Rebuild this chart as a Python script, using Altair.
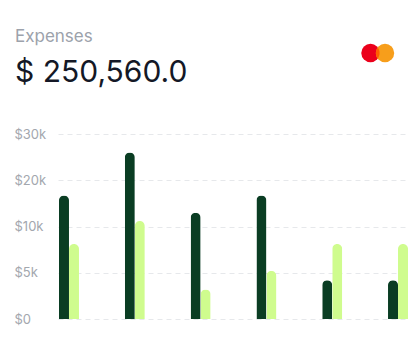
import altair as alt
import pandas as pd

months = ["Jan", "Feb", "Mar", "Apr", "May", "Jun"]
series_names = ["Spent", "Saved"]
spent = [16700, 26000, 13000, 16700, 4200, 4200]
saved = [8100, 11200, 3200, 5200, 8100, 8100]
tick_values = [0, 5000, 10000, 20000, 30000]
tick_labels = ["$0", "$5k", "$10k", "$20k", "$30k"]
title_text = ["Expenses"]
total_text = ["$ 250,560.0"]
brand = ["mastercard"]

rows = []
for m, a, b in zip(months, spent, saved):
    rows.append({"month": m, "series": series_names[0], "value": a})
    rows.append({"month": m, "series": series_names[1], "value": b})
df = pd.DataFrame(rows)

W, H = 351, 185
DARK = "#0a3d23"
LIGHT = "#cffc8e"
FONT = "Inter"

label_expr = " : ".join(
    [f"datum.value == {v} ? '{l}'" for v, l in zip(tick_values, tick_labels)]
) + " : ''"

yscale = alt.Scale(domain=tick_values, range=[H, H * 0.75, H * 0.5, H * 0.25, 0])

bars = alt.Chart(df).mark_bar(cornerRadiusTopLeft=5, cornerRadiusTopRight=5).encode(
    x=alt.X("month:N", sort=months, axis=None,
            scale=alt.Scale(paddingInner=0.696, paddingOuter=0.015)),
    xOffset=alt.XOffset("series:N", sort=series_names,
                        scale=alt.Scale(paddingInner=0, paddingOuter=0)),
    y=alt.Y("value:Q", scale=yscale, title=None,
            axis=alt.Axis(values=tick_values, labelExpr=label_expr, labelAlign="left",
                          labelPadding=44, ticks=False, tickSize=0, domain=False,
                          labelColor="#a3a7ae", labelFontSize=13, labelFont=FONT,
                          grid=True, gridColor="#e6e8eb", gridDash=[5, 4], gridWidth=1)),
    color=alt.Color("series:N", scale=alt.Scale(domain=series_names, range=[DARK, LIGHT]),
                    legend=None),
)

title = alt.Chart(pd.DataFrame({"t": title_text})).mark_text(
    align="left", baseline="alphabetic", font=FONT, fontSize=17, color="#9ca2ab"
).encode(text="t:N", x=alt.value(-43), y=alt.value(-92))

total = alt.Chart(pd.DataFrame({"t": total_text})).mark_text(
    align="left", baseline="alphabetic", font=FONT, fontSize=30, fontWeight=400, color="#141826"
).encode(text="t:N", x=alt.value(-43), y=alt.value(-52))

bdf = pd.DataFrame({"b": brand})
red = alt.Chart(bdf).mark_point(filled=True, shape="circle", size=340, color="#eb001b",
                                opacity=1).encode(x=alt.value(312.5), y=alt.value(-81))
orange = alt.Chart(bdf).mark_point(filled=True, shape="circle", size=340, color="#f79e1b",
                                   opacity=1).encode(x=alt.value(327), y=alt.value(-81))
lens = alt.Chart(bdf).mark_point(
    filled=True, size=340, color="#ff5f00", opacity=1,
    shape="M0,-0.592 A1,1 0 0,1 0,0.592 A1,1 0 0,1 0,-0.592 Z"
).encode(x=alt.value(319.75), y=alt.value(-81))

chart = alt.layer(bars, title, total, red, orange, lens).properties(
    width=W, height=H,
    padding={"left": 50, "top": 126, "right": 3, "bottom": 29},
    autosize="none",
    background="white",
).configure_view(stroke=None)

chart.save("out.html", embed_options={"renderer": "svg", "actions": False})
